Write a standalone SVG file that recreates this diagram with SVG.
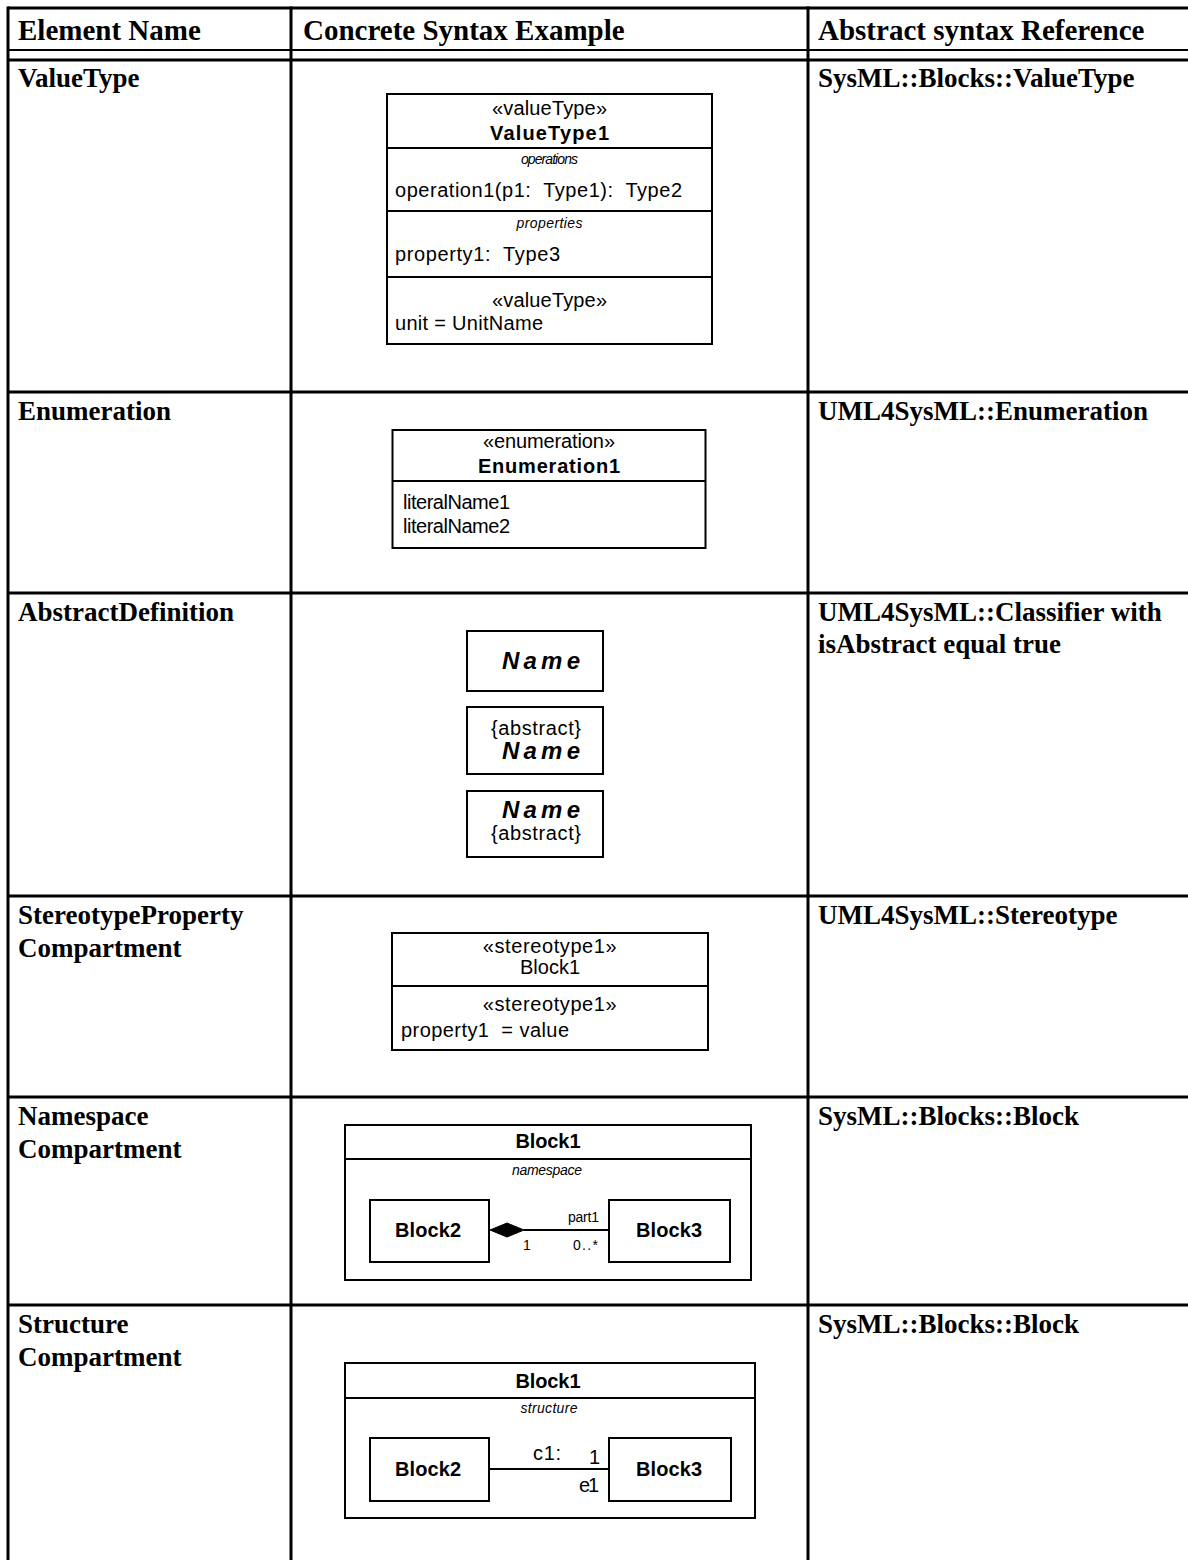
<svg xmlns="http://www.w3.org/2000/svg" width="1188" height="1560" viewBox="0 0 1188 1560">
<style>
.grid{stroke:#000;stroke-width:3;fill:none}
.hd{font-family:"Liberation Serif","Times New Roman",serif;font-weight:bold;font-size:29px;fill:#000}
.tb{font-family:"Liberation Serif","Times New Roman",serif;font-weight:bold;font-size:27px;fill:#000}
.box{fill:#fff;stroke:#000;stroke-width:2}
.ln{stroke:#000;stroke-width:2;fill:none}
.t{font-family:"Liberation Sans",Arial,sans-serif;font-size:20px;fill:#000}
.b{font-family:"Liberation Sans",Arial,sans-serif;font-size:20px;font-weight:bold;fill:#000}
.bi{font-family:"Liberation Sans",Arial,sans-serif;font-size:24px;font-weight:bold;font-style:italic;fill:#000}
.i{font-family:"Liberation Sans",Arial,sans-serif;font-size:14px;font-style:italic;fill:#000}
.s{font-family:"Liberation Sans",Arial,sans-serif;font-size:14px;fill:#000}
.m{text-anchor:middle}
</style>
<rect width="1188" height="1560" fill="#fff"/>
<g id="table">
<line class="grid" x1="8" y1="8" x2="1188" y2="8"/>
<line x1="8" y1="50" x2="1188" y2="50" stroke="#000" stroke-width="2"/>
<line class="grid" x1="8" y1="60" x2="1188" y2="60"/>
<line class="grid" x1="8" y1="392" x2="1188" y2="392"/>
<line class="grid" x1="8" y1="593" x2="1188" y2="593"/>
<line class="grid" x1="8" y1="896" x2="1188" y2="896"/>
<line class="grid" x1="8" y1="1097" x2="1188" y2="1097"/>
<line class="grid" x1="8" y1="1305" x2="1188" y2="1305"/>
<line class="grid" x1="8" y1="6.5" x2="8" y2="1560"/>
<line class="grid" x1="291" y1="6.5" x2="291" y2="1560"/>
<line class="grid" x1="808" y1="6.5" x2="808" y2="1560"/>
<text class="hd" x="18" y="40">Element Name</text>
<text class="hd" x="303" y="40">Concrete Syntax Example</text>
<text class="hd" x="818" y="40">Abstract syntax Reference</text>
<text class="tb" x="18" y="87">ValueType</text>
<text class="tb" x="818" y="87">SysML::Blocks::ValueType</text>
<text class="tb" x="18" y="420">Enumeration</text>
<text class="tb" x="818" y="420">UML4SysML::Enumeration</text>
<text class="tb" x="18" y="621">AbstractDefinition</text>
<text class="tb" x="818" y="621">UML4SysML::Classifier with</text>
<text class="tb" x="818" y="653">isAbstract equal true</text>
<text class="tb" x="18" y="924">StereotypeProperty</text>
<text class="tb" x="18" y="957">Compartment</text>
<text class="tb" x="818" y="924">UML4SysML::Stereotype</text>
<text class="tb" x="18" y="1125">Namespace</text>
<text class="tb" x="18" y="1158">Compartment</text>
<text class="tb" x="818" y="1125">SysML::Blocks::Block</text>
<text class="tb" x="18" y="1333">Structure</text>
<text class="tb" x="18" y="1366">Compartment</text>
<text class="tb" x="818" y="1333">SysML::Blocks::Block</text>
</g>
<g id="valuetype">
<rect class="box" x="387" y="94" width="325" height="250"/>
<line class="ln" x1="387" y1="148" x2="712" y2="148"/>
<line class="ln" x1="387" y1="211" x2="712" y2="211"/>
<line class="ln" x1="387" y1="277" x2="712" y2="277"/>
<text class="t m" x="549.5" y="115" textLength="115" lengthAdjust="spacing">«valueType»</text>
<text class="b m" x="549.5" y="140" textLength="119" lengthAdjust="spacing">ValueType1</text>
<text class="i m" x="549.5" y="164" textLength="57" lengthAdjust="spacing">operations</text>
<text class="t" x="395" y="197" textLength="287" lengthAdjust="spacing" xml:space="preserve">operation1(p1:  Type1):  Type2</text>
<text class="i m" x="549.5" y="228" textLength="66" lengthAdjust="spacing">properties</text>
<text class="t" x="395" y="261" textLength="165" lengthAdjust="spacing" xml:space="preserve">property1:  Type3</text>
<text class="t m" x="549.5" y="307" textLength="115" lengthAdjust="spacing">«valueType»</text>
<text class="t" x="395" y="330" textLength="148" lengthAdjust="spacing">unit = UnitName</text>
</g>
<g id="enumeration">
<rect class="box" x="392.5" y="430" width="313" height="118"/>
<line class="ln" x1="392.5" y1="481" x2="705.5" y2="481"/>
<text class="t m" x="549" y="448" textLength="132" lengthAdjust="spacing">«enumeration»</text>
<text class="b m" x="549" y="473" textLength="142" lengthAdjust="spacing">Enumeration1</text>
<text class="t" x="403" y="509" font-size="19" textLength="107" lengthAdjust="spacing">literalName1</text>
<text class="t" x="403" y="533" font-size="19" textLength="107" lengthAdjust="spacing">literalName2</text>
</g>
<g id="abstract1">
<rect class="box" x="467" y="631" width="136" height="60"/>
<text class="bi m" x="541" y="669" textLength="78" lengthAdjust="spacing">Name</text>
</g>
<g id="abstract2">
<rect class="box" x="467" y="707" width="136" height="67"/>
<text class="t m" x="536" y="735" textLength="90" lengthAdjust="spacing">{abstract}</text>
<text class="bi m" x="541" y="759" textLength="78" lengthAdjust="spacing">Name</text>
</g>
<g id="abstract3">
<rect class="box" x="467" y="791" width="136" height="66"/>
<text class="bi m" x="541" y="818" textLength="78" lengthAdjust="spacing">Name</text>
<text class="t m" x="536" y="840" textLength="90" lengthAdjust="spacing">{abstract}</text>
</g>
<g id="stereotype">
<rect class="box" x="392" y="933" width="316" height="117"/>
<line class="ln" x1="392" y1="986" x2="708" y2="986"/>
<text class="t m" x="550" y="953" letter-spacing="0.6">«stereotype1»</text>
<text class="t m" x="550" y="974">Block1</text>
<text class="t m" x="550" y="1011" letter-spacing="0.6">«stereotype1»</text>
<text class="t" x="401" y="1037" textLength="168" lengthAdjust="spacing" xml:space="preserve">property1  = value</text>
</g>
<g id="namespace-block1">
<rect class="box" x="345" y="1125" width="406" height="155"/>
<line class="ln" x1="345" y1="1159" x2="751" y2="1159"/>
<text class="b m" x="548" y="1148" textLength="65" lengthAdjust="spacing">Block1</text>
<text class="i m" x="547" y="1175" textLength="70" lengthAdjust="spacing">namespace</text>
</g>
<g id="namespace-block2">
<rect class="box" x="370" y="1200" width="119" height="62"/>
<text class="b m" x="428" y="1237" textLength="66" lengthAdjust="spacing">Block2</text>
</g>
<g id="namespace-block3">
<rect class="box" x="609" y="1200" width="121" height="62"/>
<text class="b m" x="669" y="1237" textLength="66" lengthAdjust="spacing">Block3</text>
</g>
<g id="structure-block1">
<rect class="box" x="345" y="1363" width="410" height="155"/>
<line class="ln" x1="345" y1="1398" x2="755" y2="1398"/>
<text class="b m" x="548" y="1388" textLength="65" lengthAdjust="spacing">Block1</text>
<text class="i m" x="549" y="1413" textLength="57" lengthAdjust="spacing">structure</text>
</g>
<g id="structure-block2">
<rect class="box" x="370" y="1438" width="119" height="63"/>
<text class="b m" x="428" y="1476" textLength="66" lengthAdjust="spacing">Block2</text>
</g>
<g id="structure-block3">
<rect class="box" x="609" y="1438" width="122" height="63"/>
<text class="b m" x="669" y="1476" textLength="66" lengthAdjust="spacing">Block3</text>
</g>
<g id="connectors">
<line class="ln" x1="524" y1="1230" x2="609" y2="1230"/>
<polygon points="490,1230 507,1223 524,1230 507,1237" fill="#000" stroke="#000" stroke-width="1"/>
<text class="s" x="568" y="1222" textLength="31" lengthAdjust="spacing">part1</text>
<text class="s" x="523" y="1250">1</text>
<text class="s" x="573" y="1250" textLength="25" lengthAdjust="spacing">0..*</text>
<line class="ln" x1="489" y1="1469" x2="609" y2="1469"/>
<text class="t" x="533" y="1460" textLength="28" lengthAdjust="spacing">c1:</text>
<text class="t" x="589" y="1464">1</text>
<text class="t" x="579" y="1492" textLength="20" lengthAdjust="spacing">e1</text>
</g>
</svg>
